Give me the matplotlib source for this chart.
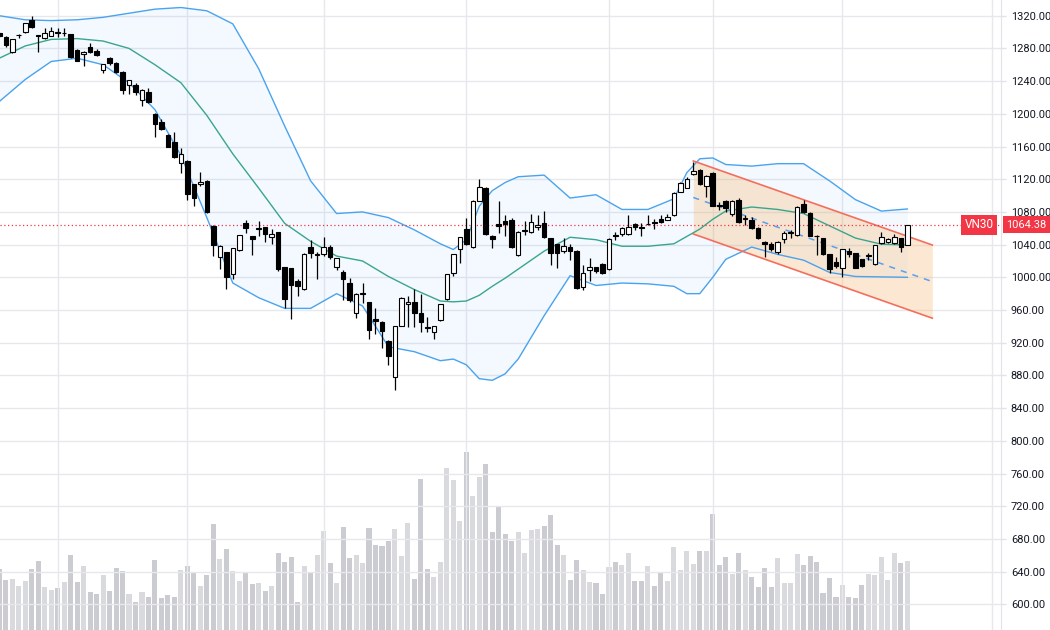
import numpy as np
import matplotlib
matplotlib.use("Agg")
import matplotlib.pyplot as plt
from matplotlib.ticker import FixedLocator, FuncFormatter

plt.rcParams['font.family'] = ['Roboto', 'DejaVu Sans']

# --- daily OHLC (VN30) ---
opens = [1298.4, 1294.4, 1275.2, 1296.0, 1299.7, 1314.7, 1296.0, 1292.3, 1295.6, 1300.5,
         1298.4, 1297.6, 1278.0, 1273.2, 1281.3, 1277.2, 1253.6, 1267.9, 1261.7, 1251.5,
         1235.2, 1235.2, 1216.9, 1227.1, 1199.4, 1190.0, 1174.1, 1165.9, 1140.2, 1142.3,
         1113.7, 1113.7, 1118.2, 1063.2, 1025.3, 1030.6, 1003.7, 1033.4, 1066.9, 1050.9,
         1059.0, 1061.1, 1049.7, 1055.0, 1012.2, 1011.8, 995.5, 985.3, 1037.5, 1027.3,
         1028.5, 1037.5, 1012.2, 1006.9, 992.6, 956.7, 979.6, 969.4, 948.6, 945.7,
         922.5, 877.6, 940.8, 967.9, 970.2, 955.9, 939.6, 932.7, 947.8, 973.0,
         1005.7, 1034.2, 1059.1, 1036.7, 1093.7, 1109.6, 1050.9, 1064.8, 1069.3, 1070.5,
         1027.3, 1056.8, 1055.0, 1061.1, 1066.8, 1047.7, 1040.3, 1032.6, 1036.6, 1032.6,
         988.5, 1008.9, 1012.2, 1016.3, 1009.7, 1051.8, 1052.6, 1053.0, 1064.8, 1061.3,
         1064.8, 1068.0, 1071.3, 1070.1, 1076.2, 1104.7, 1109.6, 1126.0, 1131.3, 1112.1,
         1127.2, 1087.8, 1093.7, 1077.5, 1094.5, 1071.3, 1070.1, 1060.0, 1043.6, 1040.7,
         1031.4, 1046.9, 1054.6, 1051.7, 1089.3, 1079.1, 1050.5, 1047.7, 1028.5, 1018.3,
         1011.8, 1032.2, 1029.3, 1022.4, 1026.0, 1016.3, 1041.6, 1043.6, 1041.6, 1047.7,
         1039.5]
highs = [1300.0, 1295.0, 1292.0, 1298.0, 1311.0, 1320.0, 1297.0, 1304.5, 1305.8, 1304.5,
         1304.5, 1298.0, 1279.0, 1277.0, 1286.2, 1279.0, 1261.0, 1269.0, 1263.8, 1252.0,
         1241.0, 1237.3, 1230.0, 1231.2, 1200.6, 1193.2, 1175.0, 1177.3, 1157.8, 1143.0,
         1114.0, 1128.4, 1119.0, 1064.0, 1040.0, 1031.0, 1036.0, 1052.0, 1070.0, 1051.0,
         1069.3, 1062.0, 1059.0, 1056.0, 1013.0, 1012.0, 998.3, 1029.3, 1045.6, 1030.5,
         1049.7, 1040.0, 1024.0, 1009.0, 998.7, 981.0, 992.6, 970.0, 962.9, 946.0,
         923.0, 941.0, 975.5, 977.1, 985.7, 979.2, 951.8, 941.0, 967.0, 1004.5,
         1028.5, 1049.0, 1072.9, 1094.0, 1119.8, 1110.0, 1051.5, 1093.3, 1076.2, 1072.0,
         1057.0, 1069.3, 1077.0, 1076.2, 1081.5, 1048.0, 1041.0, 1047.7, 1040.7, 1033.0,
         1015.1, 1023.2, 1013.0, 1017.0, 1047.5, 1055.8, 1062.0, 1076.0, 1067.0, 1066.0,
         1076.2, 1071.0, 1076.2, 1077.5, 1104.0, 1117.0, 1123.1, 1141.4, 1132.0, 1125.0,
         1129.2, 1092.5, 1094.0, 1094.0, 1096.6, 1076.2, 1074.2, 1061.0, 1044.0, 1043.6,
         1044.0, 1056.6, 1057.9, 1087.0, 1094.6, 1079.5, 1051.7, 1048.0, 1029.0, 1025.3,
         1035.0, 1035.4, 1030.0, 1023.0, 1029.3, 1040.0, 1055.8, 1048.0, 1052.6, 1048.0,
         1064.4]
lows = [1294.0, 1282.0, 1274.0, 1293.0, 1299.0, 1304.5, 1275.0, 1292.0, 1295.0, 1294.4,
        1295.6, 1268.0, 1264.0, 1258.5, 1274.0, 1271.0, 1250.3, 1259.7, 1249.5, 1223.8,
        1223.8, 1223.0, 1209.5, 1212.8, 1172.0, 1180.0, 1159.0, 1145.5, 1127.0, 1094.6,
        1087.2, 1112.0, 1079.0, 1026.1, 1009.8, 985.7, 997.6, 1032.0, 1053.8, 1027.3,
        1050.5, 1043.6, 1040.3, 1008.0, 962.9, 948.6, 977.5, 985.0, 1023.2, 997.9,
        1026.0, 1023.0, 1009.0, 972.2, 969.4, 949.8, 968.1, 924.1, 930.6, 913.1,
        892.7, 862.2, 940.0, 939.6, 939.6, 933.5, 932.7, 924.1, 946.0, 972.0,
        1001.6, 1017.1, 1039.5, 1036.0, 1093.0, 1052.0, 1036.2, 1054.6, 1050.5, 1036.0,
        1026.0, 1051.7, 1053.8, 1057.9, 1048.0, 1015.0, 1011.0, 1030.0, 1021.2, 986.0,
        984.5, 995.9, 1005.7, 1004.0, 1009.0, 1045.6, 1050.0, 1051.8, 1058.0, 1050.0,
        1064.0, 1058.7, 1066.0, 1069.5, 1075.0, 1104.0, 1109.0, 1125.0, 1113.0, 1098.6,
        1087.0, 1082.3, 1080.3, 1075.0, 1067.0, 1064.0, 1059.0, 1047.0, 1024.4, 1032.6,
        1028.5, 1041.6, 1047.7, 1051.0, 1079.0, 1050.0, 1027.3, 1027.0, 1004.9, 1011.0,
        1000.0, 1024.4, 1011.0, 1013.0, 1021.2, 1015.0, 1041.0, 1042.5, 1041.0, 1031.4,
        1039.0]
closes = [1295.2, 1284.2, 1291.5, 1296.5, 1310.7, 1306.6, 1295.0, 1298.4, 1301.3, 1298.4,
          1298.8, 1269.1, 1265.0, 1276.0, 1275.2, 1271.9, 1260.5, 1261.7, 1251.5, 1229.1,
          1240.9, 1227.1, 1229.1, 1214.9, 1187.1, 1181.4, 1159.8, 1146.8, 1151.2, 1101.9,
          1096.6, 1116.9, 1079.5, 1039.5, 1038.3, 1000.8, 1035.5, 1051.4, 1060.7, 1046.8,
          1059.5, 1053.0, 1053.0, 1009.7, 973.0, 990.6, 989.4, 1028.1, 1029.3, 1027.7,
          1036.6, 1024.4, 1023.2, 997.5, 972.2, 979.6, 980.0, 935.5, 946.5, 934.7,
          904.1, 940.8, 974.3, 970.2, 956.7, 944.9, 937.6, 940.8, 966.9, 1004.0,
          1028.1, 1048.9, 1040.7, 1093.7, 1110.9, 1053.0, 1046.8, 1062.3, 1064.8, 1036.6,
          1055.8, 1057.8, 1067.2, 1064.0, 1048.9, 1030.1, 1030.1, 1038.3, 1032.6, 987.3,
          1005.7, 1013.0, 1007.7, 1004.9, 1046.8, 1050.2, 1060.7, 1061.0, 1062.0, 1060.9,
          1065.2, 1066.0, 1068.1, 1074.2, 1103.5, 1114.9, 1120.6, 1130.4, 1113.7, 1124.3,
          1087.6, 1087.2, 1084.4, 1093.7, 1068.1, 1071.8, 1060.0, 1047.7, 1040.7, 1034.2,
          1043.6, 1054.6, 1055.0, 1086.4, 1079.5, 1051.0, 1050.2, 1028.1, 1010.2, 1013.8,
          1034.6, 1028.1, 1011.8, 1013.8, 1026.5, 1039.5, 1049.7, 1046.9, 1049.7, 1037.5,
          1064.38]
volumes = [61, 50, 51, 44, 49, 61, 69, 43, 40, 42, 48, 75, 48, 64, 38, 36, 55, 39, 62, 59,
           36, 28, 38, 33, 70, 32, 35, 33, 60, 64, 58, 44, 55, 106, 71, 81, 59, 49, 58, 46,
           47, 39, 44, 77, 68, 73, 28, 64, 58, 75, 99, 67, 47, 103, 72, 75, 67, 102, 85, 84,
           89, 101, 74, 107, 51, 151, 61, 53, 68, 162, 150, 109, 178, 134, 153, 166, 98, 124, 96, 89,
           98, 77, 100, 101, 104, 115, 85, 75, 50, 70, 60, 48, 47, 36, 63, 68, 65, 77, 49, 49,
           64, 44, 58, 49, 83, 60, 79, 66, 79, 79, 116, 65, 73, 56, 77, 60, 53, 43, 62, 43,
           72, 47, 47, 76, 65, 74, 68, 37, 52, 33, 45, 33, 32, 45, 56, 55, 73, 50, 77, 67,
           69]

# Bollinger bands (20, 2) as drawn on the chart
band_idx = [0, 4, 8, 12, 16, 20, 24, 28, 32, 36, 40, 44, 48, 52, 56, 60, 64, 68, 70, 72,
            74, 76, 78, 80, 84, 88, 92, 96, 100, 104, 106, 108, 110, 112, 116, 120, 124, 128,
            132, 136, 140]
bb_upper = [1320, 1315, 1314, 1315, 1318, 1323, 1328, 1330, 1326, 1310, 1255, 1185, 1118,
            1078, 1080, 1073, 1058, 1041, 1034, 1046, 1087, 1106, 1116, 1123, 1125, 1097,
            1101, 1083, 1083, 1096, 1128, 1145, 1146, 1138, 1136, 1139, 1139, 1118, 1095,
            1081, 1083.6]
bb_mid = [1268, 1283, 1291, 1292, 1289, 1280, 1260, 1238, 1198, 1151, 1109, 1066, 1044,
          1026, 1020, 1001, 985, 971, 970, 971, 978, 989, 999, 1010, 1032, 1049, 1046, 1038,
          1038, 1041, 1050, 1059, 1071, 1081, 1086, 1083, 1078, 1063, 1048, 1040.5, 1039.5]
bb_lower = [1215, 1242, 1264, 1268, 1260, 1238, 1205, 1149, 1073, 993, 975, 962, 962, 980,
            965, 915, 909, 898, 900, 893, 876, 874, 882, 900, 953, 1002, 990, 993, 992, 989,
            980, 980, 1000, 1022, 1037, 1028, 1021, 1006, 1001, 1000.5, 1000]

# descending parallel channel
chan_x = [107, 143.85]
chan_top = [1142.3, 1039.5]
chan_bot = [1053.0, 950.0]

month_ticks = [9, 29, 50, 72, 94, 110, 130, 153]
price_ticks = list(range(600, 1321, 40))

n = len(closes)
x = np.arange(n)
o = np.array(opens); h = np.array(highs); l = np.array(lows); c = np.array(closes)
up = c >= o

fig = plt.figure(figsize=(10.5, 6.3), dpi=100)
rect = [0, 0, 1001 / 1050, 1]
vax = fig.add_axes(rect)
ax = fig.add_axes(rect)
ax.set_zorder(2)
ax.patch.set_alpha(0)

xlim = (0.108, 154.44)

# volume
vcol = np.where(up, '#D5D6DA', '#C6C7CC')
vax.bar(x, volumes, width=0.78, color=vcol, alpha=0.9, zorder=1)
vax.set_xlim(*xlim)
vax.set_ylim(0, 630)
vax.axis('off')

# grid
for p in price_ticks:
    ax.axhline(p, color='#E6E8EE', lw=1, zorder=0)
for m in month_ticks:
    ax.axvline(m, color='#E6E8EE', lw=1, zorder=0)

# bollinger
ax.fill_between(band_idx, bb_lower, bb_upper, color='#2196F3', alpha=0.05, lw=0, zorder=1)
ax.plot(band_idx, bb_upper, color='#4AA3EE', lw=1.0, zorder=2)
ax.plot(band_idx, bb_lower, color='#4AA3EE', lw=1.0, zorder=2)
ax.plot(band_idx, bb_mid, color='#3AA58E', lw=1.0, zorder=2)

# channel
ax.fill_between(chan_x, chan_bot, chan_top, color='#F7B66A', alpha=0.3, lw=0, zorder=1.5)
ax.plot(chan_x, chan_top, color='#F56E5C', lw=1.2, zorder=3)
ax.plot(chan_x, chan_bot, color='#F56E5C', lw=1.2, zorder=3)
chan_mid = [(a + b) / 2 for a, b in zip(chan_top, chan_bot)]
ax.plot(chan_x, chan_mid, color='#5AA0EE', lw=1.1, ls=(0, (4, 4)), zorder=3)

# candles
ax.vlines(x, l, h, color='black', lw=0.9, zorder=4)
body_lo = np.minimum(o, c)
body_h = np.maximum(np.abs(c - o), 0.9)
ax.bar(x, body_h, bottom=body_lo, width=0.7, color=np.where(up, 'white', 'black'),
       edgecolor='black', linewidth=0.8, zorder=5)

# last price line + labels
last = closes[-1]
ax.axhline(last, color='#F23645', lw=0.9, ls=(0, (1, 2)), zorder=3)
ax.text(979 / 1001, last, 'VN30', transform=ax.get_yaxis_transform(), ha='center',
        va='center', color='white', fontsize=8.5, zorder=6,
        bbox=dict(boxstyle='square,pad=0.3', fc='#F23645', ec='none'))
ax.text(1.005, last, f'{last:.2f}', transform=ax.get_yaxis_transform(), ha='left',
        va='center', color='white', fontsize=7.9, zorder=6, clip_on=False,
        bbox=dict(boxstyle='square,pad=0.3', fc='#F23645', ec='none'))

ax.set_xlim(*xlim)
ax.set_ylim(568.6, 1339.2)
ax.yaxis.tick_right()
ax.yaxis.set_major_locator(FixedLocator(price_ticks))
ax.yaxis.set_major_formatter(FuncFormatter(lambda v, _: f'{v:.2f}'))
ax.tick_params(axis='y', length=3.6, width=1, color='#E0E3EB', pad=3.5, labelsize=7.9,
               labelcolor='#131722')
ax.set_xticks([])
for s in ['top', 'left', 'bottom']:
    ax.spines[s].set_visible(False)
ax.spines['right'].set_color('#E0E3EB')

fig.savefig('out.png', dpi=100)
